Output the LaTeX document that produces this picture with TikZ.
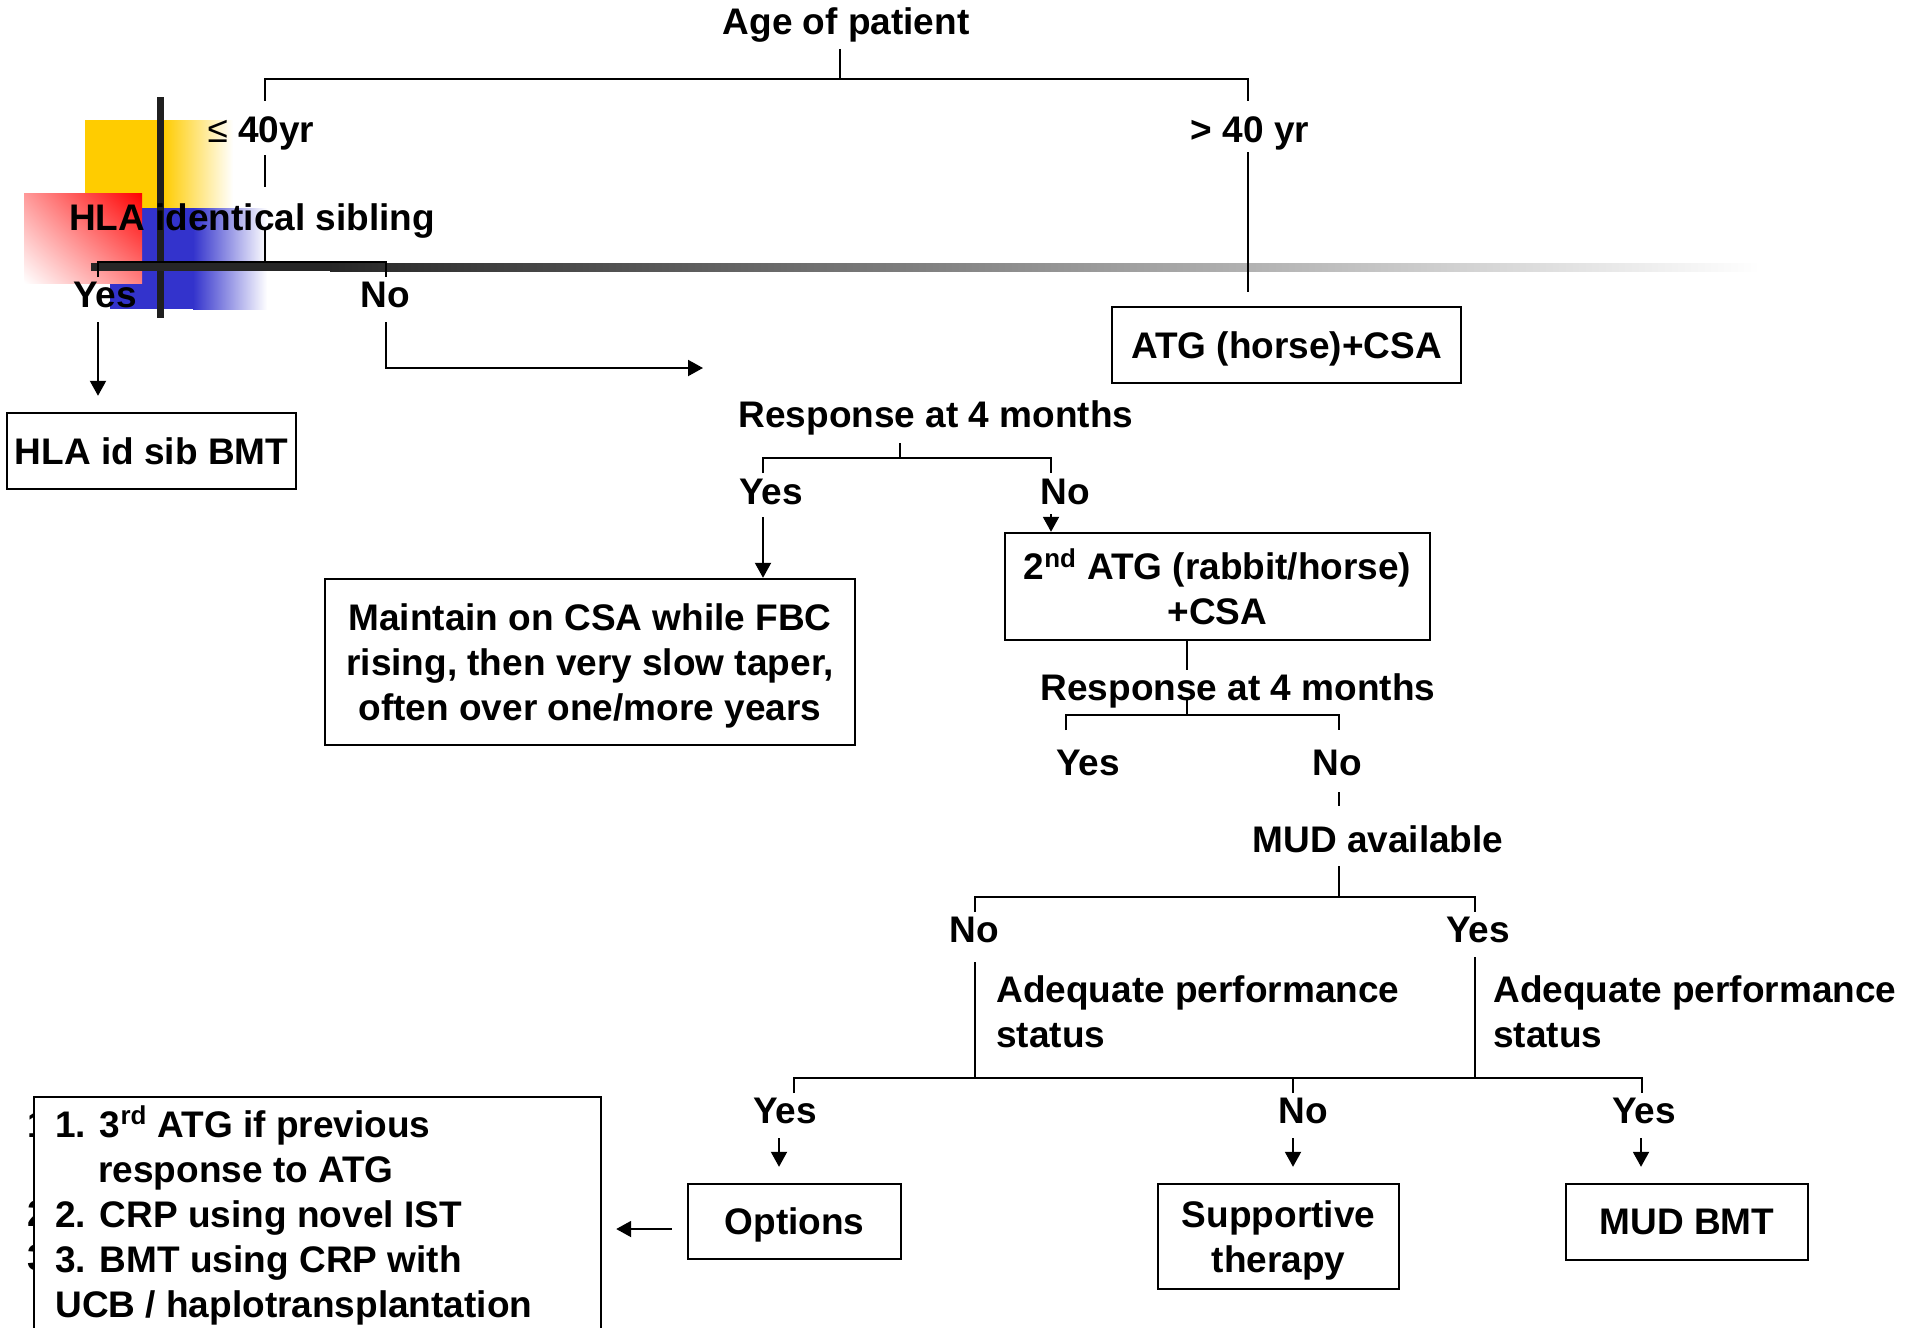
\documentclass[tikz,border=0pt]{standalone}
\usepackage{fontspec}
\setmainfont{Liberation Sans}
\usetikzlibrary{arrows.meta,shadings}
\definecolor{tyellow}{RGB}{255,204,0}
\definecolor{tblue}{RGB}{51,51,204}
\definecolor{tred}{RGB}{255,0,0}
\begin{document}
\begin{tikzpicture}[x=0.5pt,y=-0.5pt,
  txt/.style={font=\fontsize{18.5pt}{22.5pt}\selectfont\bfseries, inner sep=0pt},
  lbl/.style={txt, anchor=base},
  box/.style={txt, draw, line width=1.2pt, fill=white, align=center, text depth=0pt},
  ln/.style={line width=1pt},
  arr/.style={ln, -{Triangle[length=7.5pt,width=8pt]}}]
\useasboundingbox (0,0) rectangle (1909,1327);
\clip (0,0) rectangle (1909,1327);

% template decoration
\fill[tyellow] (85,120) rectangle (163,208);
\shade[left color=tyellow, right color=white] (163,120) rectangle (233,208);
\fill[tblue] (110,208) rectangle (193,309);
\shade[left color=tblue, right color=white] (193,208) rectangle (267,309);
\shade[upper right=tred, lower left=white, upper left=tred!40, lower right=tred!50] (24,193) rectangle (142,283);
\fill[black!88] (156.5,97) rectangle (163.5,318);
\fill[black!85] (91,263) rectangle (330,271);
\shade[left color=black!85, right color=white] (330,263) rectangle (1760,271);

% texts
\node[lbl] (age) at (846,35) {Age of patient};
\node[lbl] (le40) at (261,142) {{\mdseries ≤} 40yr};
\node[lbl] (gt40) at (1250,142) {> 40 yr};
\node[lbl] (hla) at (252,230) {HLA identical sibling};
\node[lbl] (hyes) at (105,307) {Yes};
\node[lbl] (hno) at (385,307) {No};
\node[box, minimum width=144.5pt, minimum height=38pt] (sib) at (151.5,451) {HLA id sib BMT};
\node[box, minimum width=174.5pt, minimum height=38pt] (atg) at (1286.5,345) {ATG (horse)+CSA};
\node[lbl] (resp1) at (936,427) {Response at 4 months};
\node[lbl] (r1yes) at (771,504) {Yes};
\node[lbl] (r1no) at (1065,504) {No};
\node[box, minimum width=265pt, minimum height=83pt] (maint) at (590,662) {Maintain on CSA while FBC\\rising, then very slow taper,\\often over one/more years};
\node[box, minimum width=212.5pt, minimum height=53.5pt] (atg2) at (1217.5,586.5) {2\textsuperscript{nd} ATG (rabbit/horse)\\+CSA};
\node[lbl] (resp2) at (1238,700) {Response at 4 months};
\node[lbl] (r2yes) at (1088,775) {Yes};
\node[lbl] (r2no) at (1337,775) {No};
\node[lbl] (mud) at (1378,852) {MUD available};
\node[lbl] (mno) at (974,942) {No};
\node[lbl] (myes) at (1478,942) {Yes};
\node[txt, anchor=base west] (adq1) at (996,1002) {\begin{tabular}[t]{@{}l@{}}Adequate performance\\status\end{tabular}};
\node[txt, anchor=base west] (adq2) at (1493,1002) {\begin{tabular}[t]{@{}l@{}}Adequate performance\\status\end{tabular}};
\node[lbl] (byes1) at (785,1123) {Yes};
\node[lbl] (bno) at (1303,1123) {No};
\node[lbl] (byes2) at (1644,1123) {Yes};
\node[box, minimum width=106.5pt, minimum height=37.5pt] (opt) at (794.5,1221.5) {Options};
\node[box, minimum width=120.5pt, minimum height=52.5pt] (supp) at (1278.5,1236.5) {Supportive\\therapy};
\node[box, minimum width=121pt, minimum height=38pt] (mudbmt) at (1687,1222) {MUD BMT};
\node[txt, anchor=base west] (s1) at (27,1137) {1};
\node[txt, anchor=base west] (s2) at (27,1226) {2};
\node[txt, anchor=base west] (s3) at (27,1270) {3};
\node[box, minimum width=283.5pt, minimum height=124pt] (list) at (317.5,1221) {};
\node[txt, anchor=base west] (listtxt) at (55,1137) {\begin{tabular}[t]{@{}l@{}}1. 3\textsuperscript{rd} ATG if previous\\\hspace{21.5pt}response to ATG\\2. CRP using novel IST\\3. BMT using CRP with\\UCB / haplotransplantation\end{tabular}};

% connectors
\coordinate (a0) at (840,49); \coordinate (a1) at (840,79);
\coordinate (aL) at (265,79); \coordinate (aR) at (1248,79);
\draw[ln] (a0) -- (a1);
\draw[ln] (265,101) -- (aL) -- (aR) -- (1248,101);
\draw[ln] (265,155) -- (265,187);
\draw[ln] (1248,152) -- (1248,292);
\draw[ln] (265,230) -- (265,262);
\draw[ln] (98,277) -- (98,262) -- (386,262) -- (386,277);
\coordinate (ya) at (98,322);
\draw[arr, shorten >=8pt] (ya) -- (ya |- sib.north);
\coordinate (na) at (386,322); \coordinate (nb) at (703,368);
\draw[arr] (na) |- (nb);
\draw[ln] (900,443) -- (900,458);
\draw[ln] (763,473) -- (763,458) -- (1051,458) -- (1051,473);
\coordinate (y1) at (763,517);
\draw[arr] (y1) -- (y1 |- maint.north);
\coordinate (n1) at (1051,514);
\draw[arr] (n1) -- (n1 |- atg2.north);
\coordinate (s2a) at (1187,670);
\draw[ln] (atg2.south -| s2a) -- (s2a);
\draw[ln] (1187,700) -- (1187,715);
\draw[ln] (1066,730) -- (1066,715) -- (1339,715) -- (1339,730);
\draw[ln] (1339,792) -- (1339,806);
\draw[ln] (1339,866) -- (1339,897);
\draw[ln] (975,912) -- (975,897) -- (1475,897) -- (1475,912);
\draw[ln] (975,962) -- (975,1078);
\draw[ln] (1475,957) -- (1475,1078);
\draw[ln] (794,1093) -- (794,1078) -- (1642,1078) -- (1642,1093);
\draw[ln] (1293,1078) -- (1293,1093);
\coordinate (b1) at (779,1138); \coordinate (b2) at (1293,1138); \coordinate (b3) at (1641,1138);
\draw[arr, shorten >=8pt] (b1) -- (b1 |- opt.north);
\draw[arr, shorten >=8pt] (b2) -- (b2 |- supp.north);
\draw[arr, shorten >=8pt] (b3) -- (b3 |- mudbmt.north);
\coordinate (o1) at (0,1229);
\draw[arr, shorten <=7.5pt, shorten >=7pt] (opt.west |- o1) -- (list.east |- o1);
\end{tikzpicture}
\end{document}
